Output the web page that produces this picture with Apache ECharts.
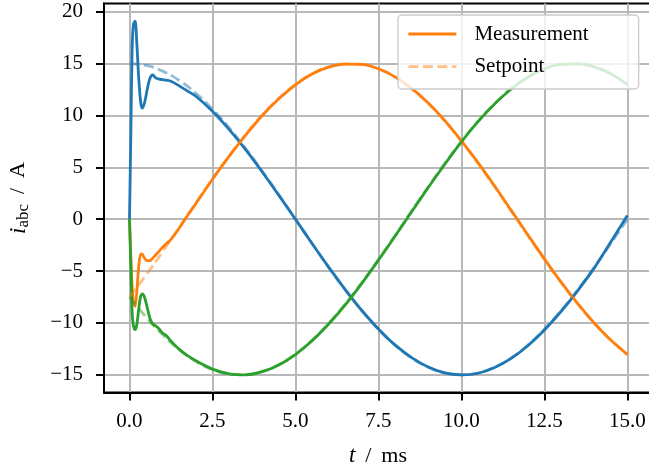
<!DOCTYPE html>
<html>
<head>
<meta charset="utf-8">
<script src="https://cdn.jsdelivr.net/npm/echarts@6/dist/echarts.min.js"></script>
<style>
  html, body { margin: 0; padding: 0; background: #fff; }
  #chart { width: 649px; height: 470px; }
</style>
</head>
<body>
<div id="chart"></div>
<script>
// measured currents, time in ms (dense at the start transient)
const tMeas = [0, 0.04, 0.08, 0.12, 0.17, 0.22, 0.28, 0.34, 0.39, 0.46, 0.54, 0.62, 0.7, 0.8, 0.9, 1.0, 1.1, 1.25,
    1.5, 1.75, 2.0, 2.5, 3.0, 3.5, 4.0, 4.5, 5.0, 5.5, 6.0, 6.5, 7.0, 7.5, 8.0, 8.5, 9.0, 9.5, 10.0,
    10.5, 11.0, 11.5, 12.0, 12.5, 13.0, 13.5, 14.0, 14.5, 15.0];
const measA = [0, 8.0, 16.5, 18.8, 19.1, 17.0, 13.5, 11.2, 10.7, 11.3, 12.6, 13.6, 13.9, 13.6, 13.5, 13.45, 13.4, 13.3,
    12.85, 12.35, 11.85, 10.4, 8.65, 6.7, 4.55, 2.3, 0.0, -2.35, -4.62, -6.78, -8.8, -10.58, -12.12, -13.35, -14.25, -14.82, -15.0,
    -14.85, -14.3, -13.42, -12.2, -10.68, -8.9, -6.9, -4.72, -2.2, 0.35];
const measB = [0, -3.5, -6.5, -8.0, -8.4, -7.0, -4.5, -3.35, -3.4, -3.8, -4.0, -4.0, -3.75, -3.4, -3.05, -2.7, -2.4, -1.95,
    -0.85, 0.35, 1.5, 3.85, 6.05, 8.1, 10.0, 11.6, 12.95, 14.0, 14.65, 14.95, 14.93, 14.5, 13.72, 12.6, 11.2, 9.5, 7.55,
    5.45, 3.2, 0.85, -1.5, -3.82, -6.05, -8.12, -10.0, -11.65, -13.05];
const measC = [0, -4.5, -9.0, -10.3, -10.65, -10.2, -8.6, -7.4, -7.2, -7.6, -8.6, -9.6, -10.1, -10.3, -10.6, -11.0, -11.2, -11.75,
    -12.55, -13.15, -13.65, -14.45, -14.9, -15.0, -14.7, -14.05, -13.05, -11.72, -10.1, -8.25, -6.18, -3.95, -1.65, 0.72, 3.05, 5.3, 7.45,
    9.4, 11.1, 12.55, 13.68, 14.48, 14.92, 14.98, 14.68, 14.02, 12.98];

// setpoints, every 0.5 ms
const tSet = [0, 0.5, 1.0, 1.5, 2.0, 2.5, 3.0, 3.5, 4.0, 4.5, 5.0, 5.5, 6.0, 6.5, 7.0, 7.5, 8.0, 8.5, 9.0, 9.5, 10.0,
    10.5, 11.0, 11.5, 12.0, 12.5, 13.0, 13.5, 14.0, 14.5, 15.0];
const setA = [15.0, 14.82, 14.27, 13.37, 12.14, 10.61, 8.82, 6.81, 4.64, 2.35, 0.0, -2.35, -4.64, -6.81, -8.82, -10.61,
    -12.14, -13.37, -14.27, -14.82, -15.0, -14.82, -14.27, -13.37, -12.14, -10.61, -8.82, -6.81, -4.64, -2.35, 0.0];
const setB = [-7.5, -5.38, -3.12, -0.79, 1.57, 3.88, 6.10, 8.17, 10.04, 11.66, 12.99, 14.0, 14.67, 14.98, 14.92, 14.49,
    13.70, 12.58, 11.15, 9.44, 7.5, 5.38, 3.12, 0.79, -1.57, -3.88, -6.10, -8.17, -10.04, -11.66, -12.99];
const setC = [-7.5, -9.44, -11.15, -12.58, -13.70, -14.49, -14.92, -14.98, -14.67, -14.0, -12.99, -11.66, -10.04, -8.17,
    -6.10, -3.88, -1.57, 0.79, 3.12, 5.38, 7.5, 9.44, 11.15, 12.58, 13.70, 14.49, 14.92, 14.98, 14.67, 14.0, 12.99];

const xTicks = [0, 2.5, 5, 7.5, 10, 12.5, 15];
const yTicks = [-15, -10, -5, 0, 5, 10, 15, 20];

const FONT = 'Liberation Serif';
const blue = '#1f77b4', orange = '#ff7f0e', green = '#2ca02c';

function pairs(ts, vs) {
    return ts.map((t, i) => [t, vs[i]]);
}

function measSeries(name, color, vals) {
    return {
        name: name, type: 'line', symbol: 'none', smooth: 0.3,
        data: pairs(tMeas, vals),
        lineStyle: { color: color, width: 2.8 },
        itemStyle: { color: color }
    };
}
function setSeries(name, color, vals) {
    return {
        name: name, type: 'line', symbol: 'none', smooth: true,
        data: pairs(tSet, vals),
        lineStyle: { color: color, width: 2.8, type: [10, 4.5], opacity: 0.5 },
        itemStyle: { color: color, opacity: 0.5 }
    };
}

const chart = echarts.init(document.getElementById('chart'));

const axisCommon = {
    type: 'value',
    axisLine: { show: true, onZero: false, lineStyle: { color: '#000', width: 2 } },
    axisTick: { show: true, inside: false, length: 8, lineStyle: { color: '#000', width: 2 } },
    splitLine: { show: true, lineStyle: { color: '#b8b8b8', width: 2 } },
    nameLocation: 'middle',
    nameTextStyle: {
        fontFamily: FONT, fontSize: 22, color: '#000',
        rich: {
            it: { fontFamily: FONT, fontSize: 23, fontStyle: 'italic', color: '#000' },
            sub: { fontFamily: FONT, fontSize: 17, color: '#000', padding: [10, 0, 0, 0] }
        }
    }
};

const option = {
    animation: false,
    backgroundColor: '#fff',
    grid: {
        left: 104, top: 3.5, width: 548, height: 389,
        outerBoundsMode: 'none',
        show: true, borderColor: '#000', borderWidth: 2, backgroundColor: 'transparent'
    },
    legend: {
        data: ['Measurement', 'Setpoint'],
        icon: 'inherit',
        orient: 'vertical',
        left: 398, top: 15,
        itemWidth: 48, itemHeight: 14, itemGap: 11.7,
        padding: [8.5, 50, 11.8, 9],
        backgroundColor: 'rgba(255,255,255,0.8)',
        borderColor: '#cccccc', borderWidth: 1.3, borderRadius: 4,
        lineStyle: { width: 2.8 },
        itemStyle: { opacity: 0 },
        textStyle: { fontFamily: FONT, fontSize: 21, color: '#000', padding: [0, 0, 0, 13] }
    },
    xAxis: Object.assign({}, axisCommon, {
        min: -0.768, max: 15.742,
        name: '{it|t}\u2009 /\u2009 ms',
        nameGap: 52,
        axisTick: Object.assign({}, axisCommon.axisTick, { customValues: xTicks }),
        axisLabel: {
            customValues: xTicks, margin: 18,
            fontFamily: FONT, fontSize: 21, color: '#000',
            formatter: v => v.toFixed(1)
        }
    }),
    yAxis: Object.assign({}, axisCommon, {
        min: -16.705, max: 20.79,
        name: '{it|i}{sub|abc}\u2009 /\u2009 A',
        nameGap: 72,
        axisTick: Object.assign({}, axisCommon.axisTick, { customValues: yTicks }),
        axisLabel: {
            customValues: yTicks, margin: 21,
            fontFamily: FONT, fontSize: 21, color: '#000',
            formatter: v => (v < 0 ? '\u2212' + Math.abs(v) : String(v))
        }
    }),
    series: [
        measSeries('Measurement a', blue, measA),
        measSeries('Measurement', orange, measB),
        measSeries('Measurement c', green, measC),
        setSeries('Setpoint a', blue, setA),
        setSeries('Setpoint', orange, setB),
        setSeries('Setpoint c', green, setC)
    ]
};

chart.setOption(option);
</script>
</body>
</html>
